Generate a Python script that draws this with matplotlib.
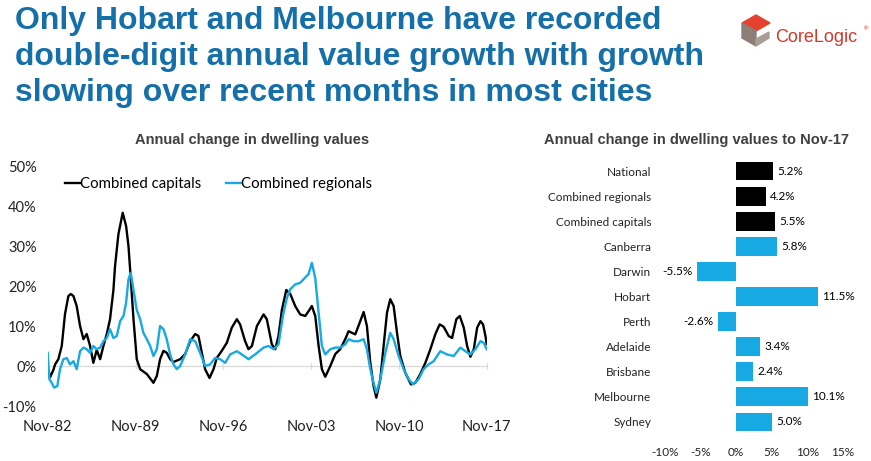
import matplotlib.pyplot as plt
from matplotlib.patches import Polygon
from matplotlib.ticker import PercentFormatter

plt.rcParams['font.family'] = ['Lato', 'DejaVu Sans']
plt.rcParams['axes.unicode_minus'] = False

# Annual change in dwelling values (decimal year, %)
capitals_x = [1982.83, 1983.02, 1983.28, 1983.42, 1983.68, 1983.95, 1984.21, 1984.48, 1984.67, 1984.88,
              1985.14, 1985.41, 1985.68, 1985.94, 1986.21, 1986.47, 1986.74, 1987.01, 1987.27, 1987.54,
              1987.80, 1988.07, 1988.20, 1988.47, 1988.81, 1989.08, 1989.27, 1989.45, 1989.67, 1989.93,
              1990.20, 1990.73, 1991.26, 1991.53, 1991.79, 1992.06, 1992.32, 1992.59, 1992.86, 1993.39,
              1993.79, 1994.19, 1994.59, 1994.85, 1995.12, 1995.38, 1995.73, 1996.05, 1996.31, 1996.71,
              1997.11, 1997.51, 1997.91, 1998.17, 1998.57, 1998.84, 1999.11, 1999.51, 2000.04, 2000.30,
              2000.70, 2000.97, 2001.23, 2001.50, 2001.85, 2002.17, 2002.56, 2002.96, 2003.36, 2003.63,
              2003.89, 2004.16, 2004.43, 2004.69, 2004.96, 2005.36, 2005.76, 2006.15, 2006.55, 2006.82,
              2007.09, 2007.35, 2007.70, 2008.02, 2008.28, 2008.55, 2008.81, 2009.03, 2009.35, 2009.61,
              2009.88, 2010.14, 2010.41, 2010.68, 2010.94, 2011.34, 2011.79, 2012.14, 2012.54, 2012.94,
              2013.34, 2013.74, 2014.08, 2014.40, 2014.80, 2015.07, 2015.41, 2015.68, 2016.00, 2016.27,
              2016.53, 2016.80, 2017.07, 2017.33, 2017.54, 2017.73, 2017.83]
capitals = [-0.4, -2.8, -1.0, 0.4, 1.7, 5.0, 13.0, 17.5, 18.0, 17.5,
            15.0, 10.0, 6.7, 8.0, 5.0, 0.8, 4.0, 1.7, 5.0, 8.0,
            11.7, 19.0, 25.0, 33.0, 38.3, 35.0, 30.0, 22.0, 11.7, 1.7,
            -0.8, -2.0, -4.2, -2.5, 1.7, 3.8, 3.3, 1.7, 1.0, 1.7,
            3.0, 6.2, 8.0, 7.5, 3.3, -0.8, -3.0, -0.8, 2.0, 3.8,
            5.8, 9.6, 11.7, 10.4, 6.2, 4.2, 5.0, 10.0, 12.9, 11.7,
            5.4, 4.2, 7.5, 14.0, 19.0, 18.0, 15.0, 12.9, 12.5, 13.7,
            15.0, 12.5, 5.0, -0.8, -2.7, 0.0, 3.0, 4.2, 6.7, 8.7,
            8.3, 7.9, 10.8, 13.5, 10.0, 0.8, -5.0, -7.9, -3.3, 5.0,
            13.3, 16.7, 15.0, 8.3, 2.5, -1.7, -4.6, -4.2, -2.0, 0.8,
            4.2, 8.0, 10.4, 9.8, 7.5, 7.0, 11.7, 12.5, 9.6, 5.0,
            2.3, 4.2, 9.6, 11.2, 10.4, 7.5, 5.5]

regionals_x = [1982.83, 1982.96, 1983.15, 1983.34, 1983.60, 1983.81, 1984.08, 1984.35, 1984.61, 1984.88,
               1985.14, 1985.41, 1985.68, 1985.94, 1986.21, 1986.47, 1986.74, 1987.01, 1987.27, 1987.54,
               1987.80, 1988.07, 1988.34, 1988.60, 1988.87, 1989.08, 1989.27, 1989.45, 1989.67, 1989.93,
               1990.20, 1990.46, 1990.73, 1991.00, 1991.26, 1991.53, 1991.79, 1992.06, 1992.32, 1992.59,
               1992.86, 1993.12, 1993.39, 1993.79, 1994.19, 1994.59, 1994.98, 1995.38, 1995.78, 1996.18,
               1996.58, 1996.98, 1997.38, 1997.91, 1998.31, 1998.84, 1999.37, 2000.04, 2000.44, 2000.84,
               2001.23, 2001.58, 2001.90, 2002.17, 2002.56, 2002.96, 2003.23, 2003.63, 2003.89, 2004.16,
               2004.43, 2004.69, 2004.96, 2005.36, 2005.76, 2006.15, 2006.55, 2006.82, 2007.22, 2007.62,
               2008.02, 2008.28, 2008.55, 2008.81, 2009.03, 2009.35, 2009.75, 2010.14, 2010.41, 2010.81,
               2011.21, 2011.61, 2011.95, 2012.40, 2012.80, 2013.20, 2013.60, 2014.13, 2014.66, 2015.20,
               2015.73, 2016.13, 2016.53, 2016.93, 2017.33, 2017.59, 2017.83]
regionals = [3.3, -3.3, -4.2, -5.4, -5.0, -0.8, 1.7, 2.0, 0.4, 1.2,
             -0.8, 3.7, 4.6, 4.2, 3.3, 5.0, 4.2, 4.6, 6.2, 7.0,
             9.2, 7.0, 7.5, 11.2, 12.5, 15.8, 21.7, 23.3, 19.0, 14.0,
             11.7, 8.3, 6.7, 5.0, 2.5, 4.2, 10.0, 9.2, 6.7, 2.9,
             0.4, -0.8, 0.0, 2.9, 6.7, 6.2, 3.3, 0.0, 0.4, 2.0,
             1.7, 0.8, 2.9, 3.7, 2.9, 1.7, 2.9, 4.6, 5.0, 4.2,
             5.4, 12.5, 17.0, 19.2, 20.4, 20.8, 21.7, 23.0, 25.8, 22.0,
             13.3, 5.0, 2.9, 4.2, 4.6, 4.6, 5.4, 6.7, 6.2, 6.2,
             6.7, 4.2, -0.8, -4.2, -6.7, -3.3, 3.3, 8.3, 6.7, 2.5,
             -0.8, -3.3, -4.6, -3.3, -0.8, 0.4, 1.2, 3.7, 2.9, 2.5,
             4.6, 3.7, 2.9, 4.2, 6.2, 5.8, 4.2]

tick_years = [1982.83, 1989.83, 1996.83, 2003.83, 2010.83, 2017.83]
tick_labels = ['Nov-82', 'Nov-89', 'Nov-96', 'Nov-03', 'Nov-10', 'Nov-17']

# Annual change to Nov-17 by region
regions = ['National', 'Combined regionals', 'Combined capitals', 'Canberra', 'Darwin', 'Hobart',
           'Perth', 'Adelaide', 'Brisbane', 'Melbourne', 'Sydney']
region_change = [5.2, 4.2, 5.5, 5.8, -5.5, 11.5, -2.6, 3.4, 2.4, 10.1, 5.0]
n_aggregates = 3

BLUE = '#17a9e4'
TITLE_BLUE = '#1570aa'
GREY_TEXT = '#3f3f3f'

fig = plt.figure(figsize=(8.71, 4.61), dpi=100)

fig.text(15 / 871, 1 - 6 / 461,
         'Only Hobart and Melbourne have recorded\n'
         'double-digit annual value growth with growth\n'
         'slowing over recent months in most cities',
         ha='left', va='top', fontsize=23, fontweight='bold', color=TITLE_BLUE,
         family='Liberation Sans', linespacing=1.27)

# CoreLogic logo
logo = fig.add_axes([740 / 871, 1 - 48 / 461, 32 / 871, 34 / 461])
logo.set_xlim(0, 32)
logo.set_ylim(34, 0)
logo.axis('off')
logo.add_patch(Polygon([(16, 1), (30, 9), (16, 17), (2, 9)], color='#e5412e'))
logo.add_patch(Polygon([(2, 9), (16, 17), (16, 32), (2, 24)], color='#8b7f77'))
logo.add_patch(Polygon([(16, 25), (29, 18), (29, 24), (16, 32)], color='#a89e97'))
fig.text(775 / 871, 1 - 37 / 461, 'CoreLogic', ha='left', va='center', fontsize=13,
         color='#d1392c', family='Liberation Sans')
fig.text(864 / 871, 1 - 29 / 461, '®', ha='left', va='center', fontsize=4, color='#d1392c')

# Left: line chart
fig.text(252 / 871, 1 - 140 / 461, 'Annual change in dwelling values', ha='center', va='center',
         fontsize=10.5, fontweight='bold', color=GREY_TEXT, family='Liberation Sans')

ax = fig.add_axes([47.7 / 871, 1 - 406 / 461, 439 / 871, 240 / 461])
ax.plot(capitals_x, capitals, color='black', lw=1.7, label='Combined capitals')
ax.plot(regionals_x, regionals, color=BLUE, lw=1.7, label='Combined regionals')
ax.set_xlim(tick_years[0], tick_years[-1])
ax.set_ylim(-10, 50)
ax.set_yticks([-10, 0, 10, 20, 30, 40, 50])
ax.yaxis.set_major_formatter(PercentFormatter(decimals=0))
ax.set_xticks(tick_years)
ax.set_xticklabels(tick_labels)
ax.tick_params(axis='both', length=0, labelsize=10.5, colors='#222222')
ax.tick_params(axis='x', pad=10)
ax.tick_params(axis='y', pad=8)
for s in ax.spines.values():
    s.set_visible(False)
ax.axhline(0, color='#d9d9d9', lw=0.9, zorder=0)
zero_axis = ax.secondary_xaxis(10 / 60)
zero_axis.set_xticks(tick_years)
zero_axis.set_xticklabels([])
zero_axis.tick_params(length=4, direction='inout', color='#d9d9d9')
zero_axis.spines['bottom'].set_visible(False)
ax.legend(loc='upper left', bbox_to_anchor=(0.02, 0.99), ncol=2, frameon=False, fontsize=10.8,
          handlelength=1.0, handletextpad=0.0, columnspacing=1.6, borderaxespad=0.2)

# Right: bar chart
fig.text(696 / 871, 1 - 140 / 461, 'Annual change in dwelling values to Nov-17', ha='center',
         va='center', fontsize=10.5, fontweight='bold', color=GREY_TEXT, family='Liberation Sans')

bx = fig.add_axes([665 / 871, 1 - 434.5 / 461, 178 / 871, 276 / 461])
colors = ['black'] * n_aggregates + [BLUE] * (len(regions) - n_aggregates)
bars = bx.barh(regions, region_change, height=0.75, color=colors)
bx.bar_label(bars, labels=[f'{v:.1f}%' for v in region_change], padding=3, fontsize=8.5)
bx.invert_yaxis()
bx.set_ylim(10.5, -0.5)
bx.set_xlim(-10, 15)
bx.set_xticks([-10, -5, 0, 5, 10, 15])
bx.xaxis.set_major_formatter(PercentFormatter(decimals=0))
bx.tick_params(axis='both', length=0, labelsize=8.5, colors='#222222')
bx.tick_params(axis='x', pad=9)
bx.tick_params(axis='y', pad=10)
for s in bx.spines.values():
    s.set_visible(False)

fig.savefig('out.png', dpi=100)
